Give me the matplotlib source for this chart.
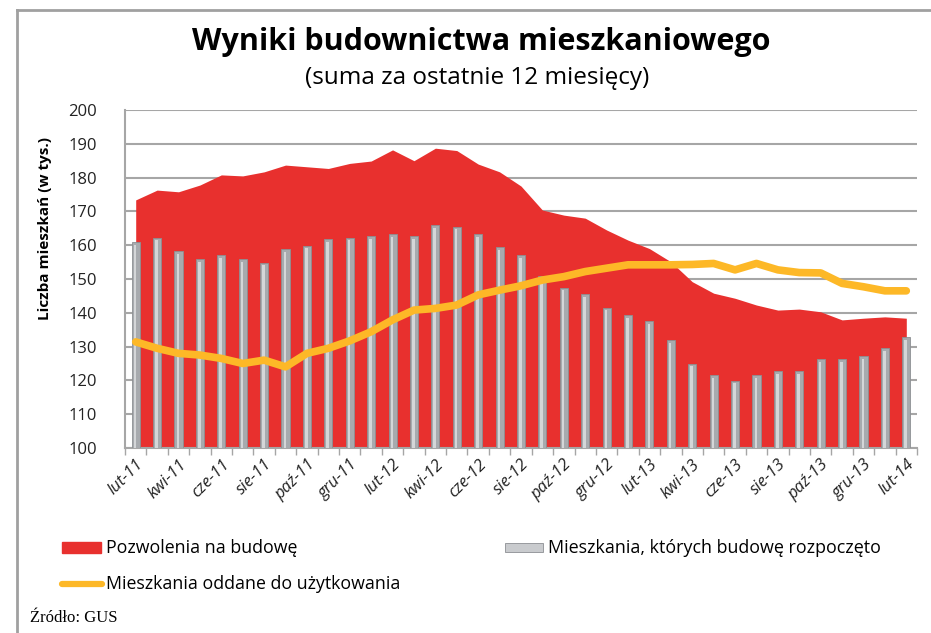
import numpy as np
import matplotlib
matplotlib.use("Agg")
import matplotlib.pyplot as plt
from matplotlib.patches import Rectangle
from matplotlib.lines import Line2D

# dane (tys. mieszkań, suma 12 mies.)
months = ["lut-11", "mar-11", "kwi-11", "maj-11", "cze-11", "lip-11", "sie-11", "wrz-11",
          "paź-11", "lis-11", "gru-11", "sty-12", "lut-12", "mar-12", "kwi-12", "maj-12",
          "cze-12", "lip-12", "sie-12", "wrz-12", "paź-12", "lis-12", "gru-12", "sty-13",
          "lut-13", "mar-13", "kwi-13", "maj-13", "cze-13", "lip-13", "sie-13", "wrz-13",
          "paź-13", "lis-13", "gru-13", "sty-14", "lut-14"]

pozwolenia = [173.4, 176.3, 175.8, 177.8, 180.8, 180.5, 181.7, 183.7, 183.2, 182.7,
              184.2, 184.9, 188.2, 185.0, 188.7, 188.0, 184.0, 181.7, 177.5, 170.4,
              168.9, 168.0, 164.5, 161.5, 159.0, 155.1, 149.2, 145.8, 144.3, 142.3,
              140.8, 141.1, 140.3, 137.9, 138.4, 138.8, 138.4]

rozpoczete = [161.0, 162.2, 158.2, 155.8, 157.0, 155.9, 154.8, 158.8, 159.9, 161.7,
              162.2, 162.7, 163.3, 162.7, 166.0, 165.5, 163.3, 159.4, 157.0, 151.0,
              147.4, 145.6, 141.5, 139.3, 137.6, 132.0, 125.0, 121.5, 119.9, 121.5,
              122.8, 122.8, 126.2, 126.2, 127.2, 129.5, 132.9]

oddane = [131.4, 129.5, 128.0, 127.5, 126.5, 125.0, 126.0, 124.0, 128.0, 129.5,
          131.7, 134.4, 137.9, 140.8, 141.3, 142.3, 145.3, 146.7, 148.0, 149.7,
          150.7, 152.2, 153.2, 154.2, 154.2, 154.2, 154.3, 154.6, 152.7, 154.6,
          152.7, 151.9, 151.8, 148.7, 147.7, 146.5, 146.5]

red = "#E8302E"
grey = "#A7AAAE"
yellow = "#FDB827"
gridc = "#A6A6A6"
plt.rcParams["font.family"] = ["Open Sans", "DejaVu Sans"]

W, H = 931, 633


def fx(px):
    return px / W


def fy(py):
    return 1 - py / H


fig = plt.figure(figsize=(9.31, 6.33), dpi=100)
ax = fig.add_axes([fx(125), fy(448), fx(917) - fx(125), fy(110) - fy(448)])

x = np.arange(len(months))

ax.fill_between(x, 100, pozwolenia, color=red, lw=0, zorder=2)
ax.bar(x, np.array(rozpoczete) - 100, bottom=100, width=0.38, color=grey,
       edgecolor="#8C8F93", lw=0.6, zorder=3)
# jasny pasek na słupkach (imitacja gradientu)
ax.bar(x - 0.03, np.array(rozpoczete) - 100.8, bottom=100, width=0.12,
       color="#D4D6D8", lw=0, zorder=4)
ax.plot(x, oddane, color=yellow, lw=5.5, solid_capstyle="round",
        solid_joinstyle="round", zorder=5)

ax.set_ylim(100, 200)
ax.set_xlim(-0.5, len(months) - 0.5)
ax.set_yticks(np.arange(100, 201, 10))
ax.yaxis.grid(True, color=gridc, lw=1.5, zorder=1)
ax.set_axisbelow(True)
ax.tick_params(axis="y", length=0, labelsize=12, pad=20, colors="#222222")

for s in ["top", "right"]:
    ax.spines[s].set_visible(False)
for s in ["left", "bottom"]:
    ax.spines[s].set_color(gridc)
    ax.spines[s].set_linewidth(1.5)

ax.set_xticks(np.arange(-0.5, len(months), 1), minor=True)
ax.tick_params(axis="x", which="minor", length=5, color=gridc, width=1)
ax.set_xticks(x[::2])
ax.set_xticklabels(months[::2], rotation=45, ha="right", rotation_mode="anchor",
                   fontsize=12, style="italic", color="#222222")
ax.tick_params(axis="x", which="major", length=0, pad=6)

fig.text(fx(45), fy(229), "Liczba mieszkań (w tys.)", rotation=90, ha="center",
         va="center", fontsize=11, fontweight="bold")

fig.text(fx(481), fy(42), "Wyniki budownictwa mieszkaniowego", ha="center",
         va="center", fontsize=22, fontweight="bold")
fig.text(fx(477), fy(78), "(suma za ostatnie 12 miesięcy)", ha="center",
         va="center", fontsize=17.5)

# legenda
fig.patches.append(Rectangle((fx(62), fy(553)), fx(39), fy(542) - fy(553),
                             transform=fig.transFigure, color=red, figure=fig))
fig.text(fx(106), fy(548), "Pozwolenia na budowę", fontsize=12.8, va="center")
fig.patches.append(Rectangle((fx(505), fy(552)), fx(38), fy(543) - fy(552),
                             transform=fig.transFigure, facecolor="#C9CBCE",
                             edgecolor="#8C8F93", lw=0.6, figure=fig))
fig.text(fx(548), fy(548), "Mieszkania, których budowę rozpoczęto", fontsize=12.9,
         va="center")
fig.lines.append(Line2D([fx(62), fx(102)], [fy(584), fy(584)], transform=fig.transFigure,
                        color=yellow, lw=4.5, solid_capstyle="round", figure=fig))
fig.text(fx(106), fy(584), "Mieszkania oddane do użytkowania", fontsize=12.8,
         va="center")

fig.text(fx(30), fy(618), "Źródło: GUS", fontsize=12, va="center",
         family=["Liberation Serif", "DejaVu Serif"])

# ramka (góra i lewa krawędź)
fig.lines.append(Line2D([fx(17), 1.0], [fy(10), fy(10)], transform=fig.transFigure,
                        color="#A0A0A0", lw=2, figure=fig))
fig.lines.append(Line2D([fx(17), fx(17)], [fy(10), 0.0], transform=fig.transFigure,
                        color="#A0A0A0", lw=2, figure=fig))

fig.savefig("out.png", dpi=100)
